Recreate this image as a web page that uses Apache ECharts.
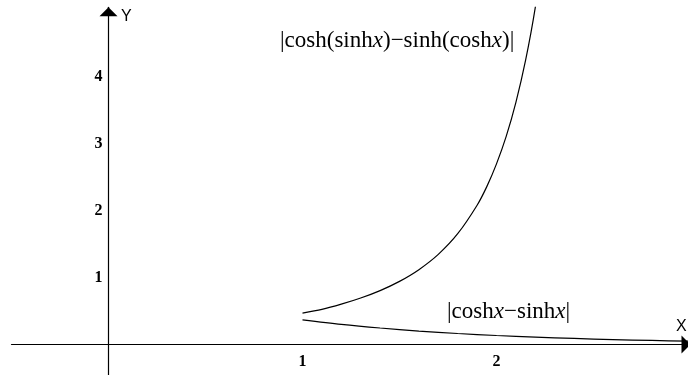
<!DOCTYPE html>
<html>
<head>
<meta charset="utf-8">
<script src="https://cdn.jsdelivr.net/npm/echarts@6/dist/echarts.min.js"></script>
<style>
  html, body { margin: 0; padding: 0; background: #fff; }
  #chart { width: 688px; height: 375px; }
</style>
</head>
<body>
<div id="chart"></div>
<script>
// upper curve |cosh(sinh x) - sinh(cosh x)|
var upperX = [1.0, 1.1, 1.2, 1.3, 1.4, 1.5, 1.6, 1.7, 1.8, 1.9, 1.95, 2.0, 2.05, 2.1, 2.15, 2.2, 2.25];
var upperY = [0.47, 0.525, 0.603, 0.695, 0.806, 0.944, 1.119, 1.347, 1.656, 2.082, 2.36, 2.70, 3.11, 3.62, 4.25, 5.04, 6.06];

// lower curve |cosh x - sinh x|
var lowerX = [1.0, 1.2, 1.4, 1.6, 1.8, 2.0, 2.2, 2.4, 2.6, 2.8, 3.0];
var lowerY = [0.368, 0.301, 0.247, 0.202, 0.165, 0.135, 0.111, 0.091, 0.074, 0.061, 0.050];

var xTicks = [1, 2];
var yTicks = [1, 2, 3, 4];

function zip(xs, ys) {
  return xs.map(function (x, i) { return [x, ys[i]]; });
}

var chart = echarts.init(document.getElementById('chart'));

var serif = '"Liberation Serif", "Times New Roman", serif';
var sans = '"Liberation Sans", Arial, sans-serif';
var tickFont = { fontFamily: serif, fontWeight: 'bold', fontSize: 16, color: '#000' };

function mathText(parts) {
  return parts.map(function (p) { return '{' + p[1] + '|' + p[0] + '}'; }).join('');
}
var rich = {
  n: { fontFamily: serif, fontSize: 23, color: '#000' },
  i: { fontFamily: serif, fontSize: 23, fontStyle: 'italic', color: '#000' },
  b: { fontFamily: serif, fontSize: 23, color: '#666' }
};

// grid: x -0.5..3 over 11.5..690.5, y -0.5..5.04 over 378..7.3
var option = {
  animation: false,
  backgroundColor: '#fff',
  grid: { left: 11.5, right: -2.5, top: 7.3, bottom: -3, outerBoundsMode: 'none', containLabel: false },
  xAxis: {
    type: 'value',
    min: -0.5,
    max: 3.0,
    interval: 0.5,
    offset: -33.5,
    splitLine: { show: false },
    axisTick: { show: false },
    axisLine: {
      onZero: false,
      lineStyle: { color: '#000', width: 1.2 },
      symbol: ['none', 'triangle'],
      symbolSize: [18, 9],
      symbolOffset: [0, -4.5]
    },
    axisLabel: Object.assign({
      margin: 9,
      showMaxLabel: false,
      formatter: function (v) { return xTicks.indexOf(v) >= 0 ? String(v) : ''; }
    }, tickFont)
  },
  yAxis: {
    type: 'value',
    min: -0.5,
    max: 5.04,
    interval: 0.5,
    offset: -97,
    splitLine: { show: false },
    axisTick: { show: false },
    axisLine: {
      onZero: false,
      lineStyle: { color: '#000', width: 1.2 },
      symbol: ['none', 'triangle'],
      symbolSize: [18, 9],
      symbolOffset: [0, -4.5]
    },
    axisLabel: Object.assign({
      margin: 6,
      showMaxLabel: false,
      formatter: function (v) { return yTicks.indexOf(v) >= 0 ? String(v) : ''; }
    }, tickFont)
  },
  series: [
    {
      type: 'line',
      data: zip(upperX, upperY),
      showSymbol: false,
      smooth: 0.3,
      clip: true,
      lineStyle: { color: '#000', width: 1.2 }
    },
    {
      type: 'line',
      data: zip(lowerX, lowerY),
      showSymbol: false,
      smooth: 0.3,
      clip: true,
      lineStyle: { color: '#000', width: 1.2 }
    }
  ],
  graphic: [
    {
      type: 'text', left: 280, top: 29,
      style: {
        text: mathText([['|', 'b'], ['cosh(sinh', 'n'], ['x', 'i'], [')−sinh(cosh', 'n'], ['x', 'i'], [')', 'n'], ['|', 'b']]),
        rich: rich
      }
    },
    {
      type: 'text', left: 447, top: 300,
      style: {
        text: mathText([['|', 'b'], ['cosh', 'n'], ['x', 'i'], ['−sinh', 'n'], ['x', 'i'], ['|', 'b']]),
        rich: rich
      }
    },
    {
      type: 'text', left: 121, top: 9,
      style: { text: 'Y', fontFamily: sans, fontSize: 16, fill: '#000' }
    },
    {
      type: 'text', left: 676, top: 319,
      style: { text: 'X', fontFamily: sans, fontSize: 16, fill: '#000' }
    }
  ]
};

chart.setOption(option);
</script>
</body>
</html>
